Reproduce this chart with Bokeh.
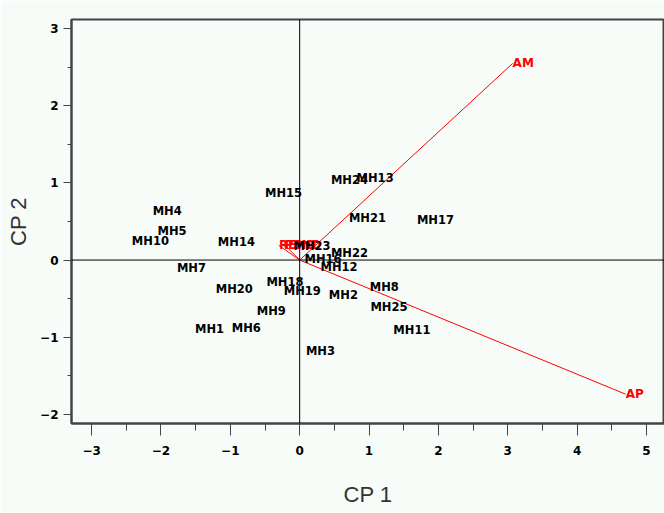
from bokeh.plotting import figure
from bokeh.models import Range1d, FixedTicker, Span, ColumnDataSource
from bokeh.core.properties import value
from bokeh.embed import file_html
from bokeh.resources import INLINE

# Genotype scores (CP1, CP2)
obs_names = ["MH1", "MH2", "MH3", "MH4", "MH5", "MH6", "MH7", "MH8", "MH9", "MH10",
             "MH11", "MH12", "MH13", "MH14", "MH15", "MH16", "MH17", "MH18", "MH19", "MH20",
             "MH21", "MH22", "MH23", "MH24", "MH25"]
obs_cp1 = [-1.51, 0.42, 0.09, -2.12, -2.05, -0.98, -1.77, 1.01, -0.62, -2.42,
           1.35, 0.30, 0.82, -1.18, -0.50, 0.07, 1.69, -0.48, -0.23, -1.21,
           0.71, 0.45, -0.09, 0.45, 1.02]
obs_cp2 = [-0.90, -0.45, -1.18, 0.64, 0.38, -0.88, -0.10, -0.35, -0.66, 0.25,
           -0.91, -0.09, 1.06, 0.23, 0.87, 0.01, 0.52, -0.29, -0.40, -0.38,
           0.55, 0.09, 0.18, 1.04, -0.61]

# Variable vectors (loadings)
var_names = ["AM", "AP", "REND", "PEND"]
var_cp1 = [3.07, 4.70, -0.30, -0.22]
var_cp2 = [2.55, -1.74, 0.19, 0.20]

x_ticks = [-3, -2, -1, 0, 1, 2, 3, 4, 5]
y_ticks = [-2, -1, 0, 1, 2, 3]

BG = "#f7fcf9"

p = figure(width=664, height=513, output_backend="svg", toolbar_location=None,
           x_range=Range1d(-3.29, 5.26), y_range=Range1d(-2.12, 3.12),
           background_fill_color=BG, border_fill_color=BG,
           min_border_left=71, min_border_top=19, min_border_bottom=90, min_border_right=0)
p.grid.visible = False
p.outline_line_color = "#444444"
p.outline_line_width = 2

for ax in (p.xaxis[0], p.yaxis[0]):
    ax.axis_line_color = "#444444"
    ax.axis_line_width = 2
    ax.major_tick_line_color = "#444444"
    ax.minor_tick_line_color = "#444444"
    ax.major_tick_line_width = 1
    ax.minor_tick_line_width = 1
    ax.major_tick_in = 0
    ax.minor_tick_in = 0
    ax.major_label_text_font = "DejaVu Sans"
    ax.major_label_text_font_style = "bold"
    ax.major_label_text_font_size = "12px"
    ax.major_label_text_color = "black"
    ax.axis_label_text_font = "Liberation Sans"
    ax.axis_label_text_font_style = "normal"
    ax.axis_label_text_font_size = "22px"
    ax.axis_label_text_color = "#333333"

p.xaxis.ticker = FixedTicker(ticks=x_ticks, minor_ticks=[v + 0.5 for v in x_ticks[:-1]] + [-3.5, 5.5])
p.yaxis.ticker = FixedTicker(ticks=y_ticks, minor_ticks=[v + 0.5 for v in y_ticks[:-1]] + [-2.5])
p.xaxis.major_tick_out = 12
p.xaxis.minor_tick_out = 7
p.yaxis.major_tick_out = 8
p.yaxis.minor_tick_out = 4
p.xaxis.major_label_standoff = 10
p.yaxis.major_label_standoff = 5
p.xaxis.axis_label = "CP 1"
p.yaxis.axis_label = "CP 2"
p.xaxis.axis_label_standoff = 24
p.yaxis.axis_label_standoff = 6

p.add_layout(Span(location=0, dimension="width", line_color="black", line_width=1))
p.add_layout(Span(location=0, dimension="height", line_color="black", line_width=1))

# vectors
xs = [[0, a] for a in var_cp1]
ys = [[0, b] for b in var_cp2]
p.multi_line(xs=xs, ys=ys, line_color="red", line_width=1)

vsrc = ColumnDataSource(dict(x=var_cp1, y=var_cp2, t=var_names))
p.text(x="x", y="y", text="t", source=vsrc, text_color="red",
       text_font=value("DejaVu Sans"), text_font_style="bold", text_font_size="12px",
       text_align="left", text_baseline="middle")

osrc = ColumnDataSource(dict(x=obs_cp1, y=obs_cp2, t=obs_names))
p.text(x="x", y="y", text="t", source=osrc, text_color="black",
       text_font=value("DejaVu Sans"), text_font_style="bold", text_font_size="11.5px",
       text_align="left", text_baseline="middle")

open("out.html", "w").write(file_html(p, INLINE))
